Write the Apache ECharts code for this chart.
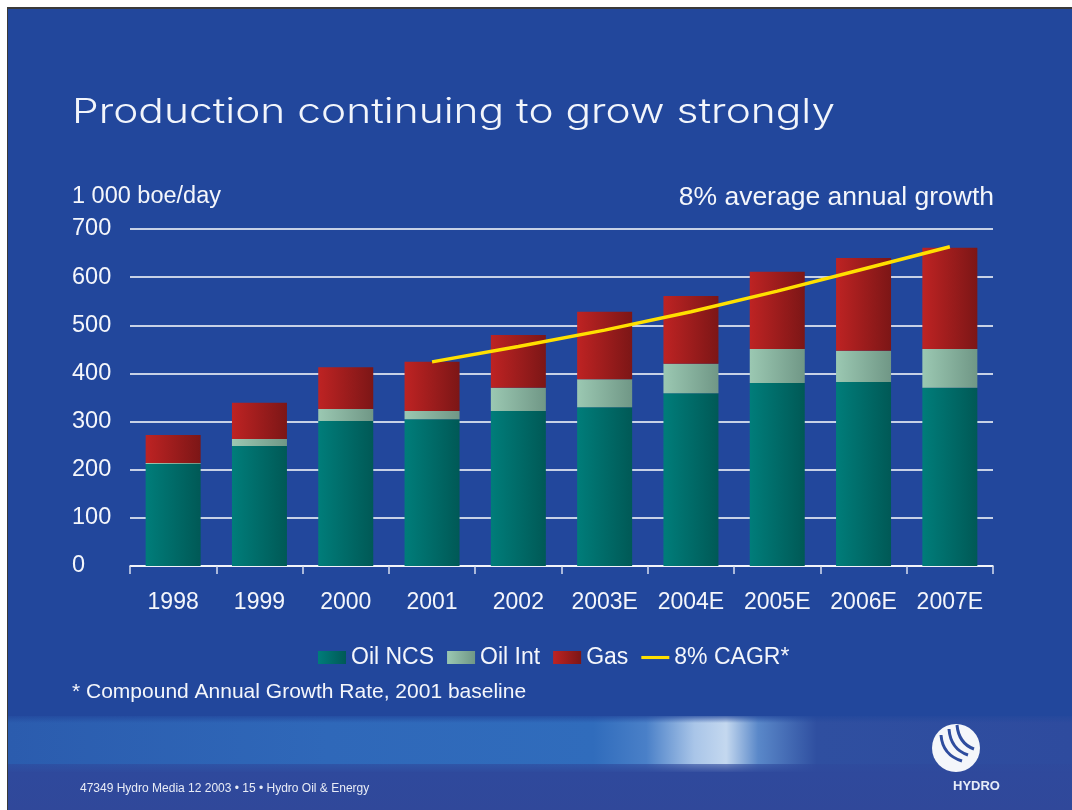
<!DOCTYPE html>
<html>
<head>
<meta charset="utf-8">
<script src="https://cdn.jsdelivr.net/npm/echarts@6/dist/echarts.min.js"></script>
<style>
  html, body { margin: 0; padding: 0; background: #ffffff; }
  #chart { width: 1072px; height: 810px; }
</style>
</head>
<body>
<div id="chart"></div>
<script>
// Production by segment, 1 000 boe/day
const years = ['1998', '1999', '2000', '2001', '2002', '2003E', '2004E', '2005E', '2006E', '2007E'];
const oilNcs = [212, 249, 301, 305, 322, 330, 359, 380, 382, 370];
const oilInt = [2, 15, 25, 17, 48, 58, 61, 71, 65, 81];
const gas = [58, 75, 87, 102, 110, 140, 141, 160, 193, 210];
// 8% compound annual growth from the 2001 level
const cagr = [null, null, null, 424, 456, 490, 528, 571, 617, 663];
const yTicks = [0, 100, 200, 300, 400, 500, 600, 700];

const BG = '#22479C';
const TXT = '#F4F6FB';
const FONT = 'Liberation Sans, Arial, sans-serif';

const TITLE = 'Production continuing to grow strongly';
const TITLE_FONT = '300 34px Inter, "Open Sans", sans-serif';
const TITLE_WIDTH = 763;

// stretch the title horizontally so it spans the intended width
function titleScale() {
  const ctx = document.createElement('canvas').getContext('2d');
  ctx.font = TITLE_FONT;
  const w = ctx.measureText(TITLE).width;
  return w > 0 ? TITLE_WIDTH / w : 1;
}

function hGrad(a, b) {
  return new echarts.graphic.LinearGradient(0, 0, 1, 0, [
    { offset: 0, color: a },
    { offset: 1, color: b }
  ]);
}

function sail(x1, y1, cx1, cy1, cx2, cy2, x2, y2) {
  return {
    type: 'bezierCurve', z: 6,
    shape: { x1: x1, y1: y1, cpx1: cx1, cpy1: cy1, cpx2: cx2, cpy2: cy2, x2: x2, y2: y2 },
    style: { stroke: '#2E4C9E', lineWidth: 3, fill: null }
  };
}

const chart = echarts.init(document.getElementById('chart'), null, { renderer: 'canvas' });

const option = {
  backgroundColor: '#ffffff',
  animation: false,
  textStyle: { fontFamily: FONT },
  grid: { left: 130, right: 79, top: 229, bottom: 244, containLabel: false },
  xAxis: {
    type: 'category',
    data: years,
    boundaryGap: true,
    axisLine: { show: true, lineStyle: { color: '#FFFFFF', width: 1.5 } },
    axisTick: { show: true, interval: 0, alignWithLabel: false, length: 8, lineStyle: { color: '#D8DEEE', width: 1.5 } },
    axisLabel: { color: TXT, fontSize: 23, fontFamily: FONT, margin: 25, interval: 0 }
  },
  yAxis: {
    type: 'value',
    min: 0,
    max: 700,
    interval: 100,
    axisLine: { show: false },
    axisTick: { show: false },
    splitLine: { show: true, lineStyle: { color: '#FFFFFF', width: 1.5 } },
    axisLabel: {
      color: TXT, fontSize: 23.5, fontFamily: FONT, align: 'left', margin: 58,
      formatter: function (v) { return yTicks.indexOf(v) >= 0 ? String(v) : ''; }
    }
  },
  legend: {
    left: 318,
    top: 646,
    padding: 0,
    itemWidth: 28,
    itemHeight: 13,
    itemGap: 13,
    textStyle: { color: TXT, fontSize: 23, fontFamily: FONT },
    data: [
      { name: 'Oil NCS', icon: 'rect' },
      { name: 'Oil Int', icon: 'rect' },
      { name: 'Gas', icon: 'rect' },
      { name: '8% CAGR*', icon: 'path://M0,0H10V1.1H0Z' }
    ]
  },
  series: [
    {
      name: 'Oil NCS', type: 'bar', stack: 'prod', barWidth: 55, data: oilNcs,
      itemStyle: { color: hGrad('#007D7A', '#005956') }
    },
    {
      name: 'Oil Int', type: 'bar', stack: 'prod', barWidth: 55, data: oilInt,
      itemStyle: { color: hGrad('#9BC8B2', '#709786') }
    },
    {
      name: 'Gas', type: 'bar', stack: 'prod', barWidth: 55, data: gas,
      itemStyle: { color: hGrad('#BE2323', '#7C1616') }
    },
    {
      name: '8% CAGR*', type: 'line', data: cagr, symbol: 'none', z: 10,
      lineStyle: { color: '#FFE000', width: 3.5 },
      itemStyle: { color: '#FFE000' }
    }
  ],
  graphic: [
    // slide frame and background
    { type: 'rect', z: -10, shape: { x: 7, y: 7, width: 1065, height: 803 }, style: { fill: '#3A3A3A' } },
    { type: 'rect', z: -9, shape: { x: 8, y: 9, width: 1064, height: 801 }, style: { fill: BG } },
    // footer band
    {
      type: 'rect', z: -8, shape: { x: 8, y: 716, width: 1064, height: 56 },
      style: {
        fill: new echarts.graphic.LinearGradient(0, 0, 1, 0, [
          { offset: 0, color: '#2B5CAE' },
          { offset: 0.3, color: '#2F68B9' },
          { offset: 0.55, color: '#306CBC' },
          { offset: 0.6, color: '#4A80C8' },
          { offset: 0.645, color: '#A9C5E8' },
          { offset: 0.675, color: '#C4D8EF' },
          { offset: 0.705, color: '#5A88C9' },
          { offset: 0.76, color: '#2F4FA0' },
          { offset: 1, color: '#2E4B9E' }
        ])
      }
    },
    {
      type: 'rect', z: -7, shape: { x: 8, y: 714, width: 1064, height: 9 },
      style: {
        fill: new echarts.graphic.LinearGradient(0, 0, 0, 1, [
          { offset: 0, color: BG },
          { offset: 1, color: 'rgba(34,71,156,0)' }
        ])
      }
    },
    {
      type: 'rect', z: -7, shape: { x: 8, y: 764, width: 1064, height: 46 },
      style: {
        fill: new echarts.graphic.LinearGradient(0, 0, 0, 1, [
          { offset: 0, color: 'rgba(47,73,156,0.6)' },
          { offset: 0.2, color: '#2F499C' },
          { offset: 1, color: '#30489A' }
        ])
      }
    },
    // title and captions
    {
      type: 'text', x: 72, y: 113, scaleX: titleScale(), scaleY: 1,
      style: {
        text: TITLE, x: 0, y: 0, align: 'left', verticalAlign: 'middle',
        fill: '#F2F5FB', fontSize: 34, fontFamily: 'Inter, "Open Sans", sans-serif', fontWeight: 300
      }
    },
    {
      type: 'text', left: 72, top: 185,
      style: { text: '1 000 boe/day', fill: TXT, fontSize: 23.5, fontFamily: FONT }
    },
    {
      type: 'text', right: 78, top: 184,
      style: { text: '8% average annual growth', fill: TXT, fontSize: 26.5, fontFamily: FONT }
    },
    {
      type: 'text', left: 72, top: 682,
      style: { text: '* Compound Annual Growth Rate, 2001 baseline', fill: TXT, fontSize: 21, fontFamily: FONT }
    },
    {
      type: 'text', left: 80, top: 783,
      style: { text: '47349 Hydro Media 12 2003 \u2022 15 \u2022 Hydro Oil & Energy', fill: '#E8ECF6', fontSize: 12, fontFamily: FONT }
    },
    // Hydro logo
    { type: 'circle', z: 5, shape: { cx: 956, cy: 748, r: 24 }, style: { fill: '#F4F6FA' } },
    sail(941, 735, 942, 748, 949, 757, 962, 761),
    sail(949, 729, 950, 742, 956, 751, 968, 755),
    sail(957, 725, 958, 736, 963, 745, 974, 749),
    {
      type: 'text', z: 6, left: 953, top: 780,
      style: { text: 'HYDRO', fill: '#E6ECF8', fontSize: 13, fontWeight: 'bold', fontFamily: FONT }
    }
  ]
};

chart.setOption(option);
</script>
</body>
</html>
